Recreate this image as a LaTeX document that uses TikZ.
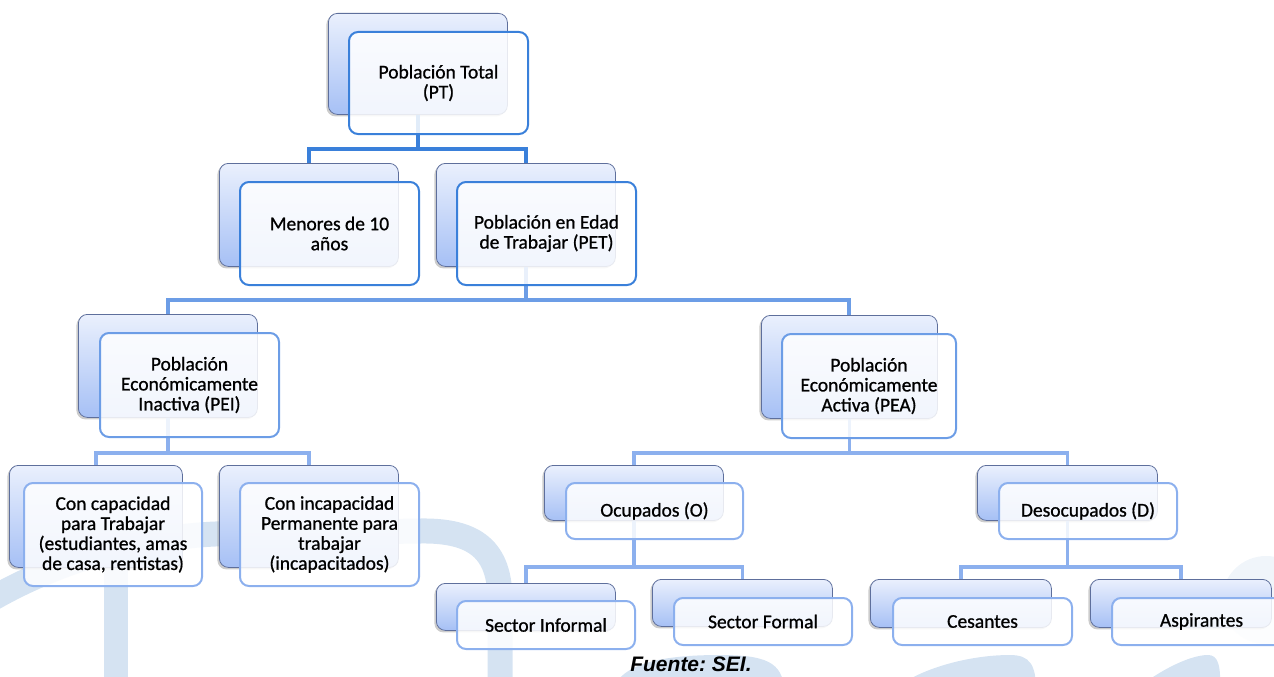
\documentclass[tikz,border=0pt]{standalone}
\usepackage{fontspec}
\setmainfont{Carlito}[FakeBold=0.9]
\newfontfamily\fuentefont{Liberation Sans}
\usetikzlibrary{shadows}
\definecolor{boxtop}{HTML}{EAF0FD}
\definecolor{boxbottom}{HTML}{A6C0F5}
\definecolor{boxline}{HTML}{5E6F9C}
\definecolor{lineA}{HTML}{3A80DA}
\definecolor{lineB}{HTML}{6C9DE6}
\definecolor{lineC}{HTML}{8CB0EE}
\definecolor{markblue}{HTML}{D5E3F2}

\begin{document}
\begin{tikzpicture}[x=1pt, y=-1pt, font=\fontsize{19.5}{20}\selectfont]
\tikzstyle{back_style} = [anchor=north west, rounded corners=9pt, draw=boxline, line width=0.8pt, top color=boxtop, bottom color=boxbottom, drop shadow={shadow xshift=-2pt, shadow yshift=-2pt, opacity=0.4}, minimum width=179pt, inner sep=0pt]
\tikzstyle{front_style} = [anchor=north west, rounded corners=9pt, draw=lineC, line width=2pt, fill=white, fill opacity=0.85, text opacity=1, minimum width=179pt, inner sep=0pt, align=center, text=black]
\tikzstyle{edge_style} = [draw=lineC, line width=3.5pt]
\tikzstyle{mark_style} = [draw=markblue, line width=25pt]

\useasboundingbox (0,0) rectangle (1274,677);
\clip (0,0) rectangle (1274,677);

% watermark in the background
\draw[mark_style] (-10,600) .. controls (50,565) and (130,538) .. (215,534) -- (420,531) .. controls (475,530) and (500,550) .. (500,600) -- (500,690);
\draw[mark_style, line width=24pt] (116,545) -- (116,690);
\fill[markblue] (612,690) .. controls (622,664) and (660,655) .. (720,655) .. controls (765,655) and (783,662) .. (784,690) -- cycle;
\fill[markblue] (893,690) .. controls (920,668) and (970,655) .. (1010,655) .. controls (1030,655) and (1036,665) .. (1036,690) -- cycle;
\fill[markblue] (1135,690) .. controls (1160,670) and (1190,655) .. (1208,655) .. controls (1218,655) and (1221,665) .. (1220,690) -- cycle;
\fill[markblue!35] (1266,600) circle (44);

% back boxes
\node[back_style, minimum height=101pt] (ptb) at (328,13) {};
\node[back_style, minimum height=103pt] (menb) at (219,163) {};
\node[back_style, minimum height=103pt] (petb) at (436,163) {};
\node[back_style, minimum height=103pt] (peib) at (78,314) {};
\node[back_style, minimum height=103pt, minimum width=176pt] (peab) at (761,315) {};
\node[back_style, minimum height=102pt, minimum width=173pt] (capb) at (9,465) {};
\node[back_style, minimum height=102pt] (incb) at (219,465) {};
\node[back_style, minimum height=55pt] (ocub) at (544,465) {};
\node[back_style, minimum height=55pt, minimum width=180pt] (desb) at (977,465) {};
\node[back_style, minimum height=47pt] (infb) at (436,583) {};
\node[back_style, minimum height=47pt, minimum width=180pt] (forb) at (652,579) {};
\node[back_style, minimum height=48pt, minimum width=181pt] (cesb) at (870,579) {};
\node[back_style, minimum height=48pt, minimum width=181pt] (aspb) at (1090,579) {};

% connectors
\draw[edge_style, draw=lineA, line width=4pt] (ptb.south) -- ++(0,34) -| (menb.north);
\draw[edge_style, draw=lineA, line width=4pt] (ptb.south) -- ++(0,34) -| (petb.north);
\draw[edge_style, draw=lineB, line width=4pt] (petb.south) -- ++(0,33) -| (peib.north);
\draw[edge_style, draw=lineB, line width=4pt] (petb.south) -- ++(0,33) -| (peab.north);
\draw[edge_style] (peib.south) -- ++(0,35) -| (capb.north);
\draw[edge_style] (peib.south) -- ++(0,35) -| (incb.north);
\draw[edge_style] (peab.south) -- ++(0,34) -| (ocub.north);
\draw[edge_style] (peab.south) -- ++(0,34) -| (desb.north);
\draw[edge_style] (ocub.south) -- ++(0,46) -| (infb.north);
\draw[edge_style] (ocub.south) -- ++(0,46) -| (forb.north);
\draw[edge_style] (desb.south) -- ++(0,46) -| (cesb.north);
\draw[edge_style] (desb.south) -- ++(0,46) -| (aspb.north);

% front boxes
\node[front_style, draw=lineA, minimum height=102pt] (pt) at (348,31) {Población Total\\(PT)};
\node[front_style, draw=lineA, minimum height=103pt] (men) at (239,181) {Menores de 10\\años};
\node[front_style, draw=lineA, minimum height=103pt] (pet) at (456,181) {Población en Edad\\de Trabajar (PET)};
\node[front_style, draw=lineB, minimum height=104pt] (pei) at (99,332) {Población\\Económicamente\\Inactiva (PEI)};
\node[front_style, draw=lineB, minimum height=104pt, minimum width=174pt] (pea) at (781,333) {Población\\Económicamente\\Activa (PEA)};
\node[front_style, minimum height=103pt, minimum width=178pt] (cap) at (23,482) {Con capacidad\\para Trabajar\\(estudiantes, amas\\de casa, rentistas)};
\node[front_style, minimum height=103pt] (inc) at (239,482) {Con incapacidad\\Permanente para\\trabajar\\(incapacitados)};
\node[front_style, minimum height=56pt, minimum width=177pt] (ocu) at (565,482) {Ocupados (O)};
\node[front_style, minimum height=56pt, minimum width=178pt] (des) at (998,482) {Desocupados (D)};
\node[front_style, minimum height=48pt, minimum width=178pt] (inf) at (456,600) {Sector Informal};
\node[front_style, minimum height=47pt, minimum width=178pt] (for) at (673,597) {Sector Formal};
\node[front_style, minimum height=47pt] (ces) at (892,597) {Cesantes};
\node[front_style, minimum height=47pt] (asp) at (1111,597) {Aspirantes};

\node[font=\fuentefont\bfseries\itshape\fontsize{21}{23}\selectfont\frenchspacing, text=black] (fuente) at (691,664) {Fuente: SEI.};
\end{tikzpicture}
\end{document}
